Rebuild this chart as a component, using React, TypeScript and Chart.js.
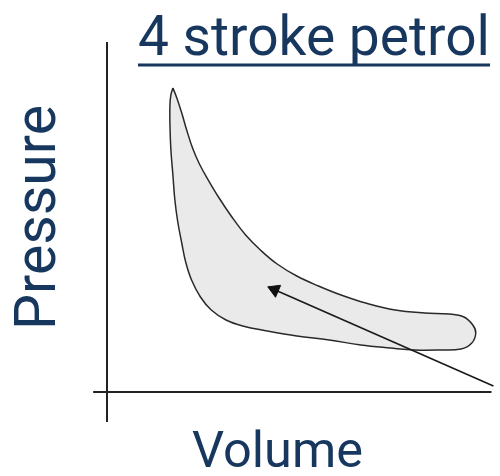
import { useEffect, useRef } from "react";
import { Chart, registerables } from "chart.js";

Chart.register(...registerables);

// ---- text ----
const titleText = "4 stroke petrol";
const xAxisTitle = "Volume";
const yAxisTitle = "Pressure";

// ---- P-V loop (volume, pressure), traced clockwise from the peak ----
const loopVolume = [
  1.714, 1.816, 1.944, 2.072, 2.225, 2.404, 2.634, 2.916, 3.248, 3.606, 3.99, 4.425,
  4.936, 5.499, 6.087, 6.726, 7.494, 8.261, 8.9, 9.284, 9.514, 9.591, 9.488, 9.207,
  8.645, 8.005, 7.366, 6.598, 5.78, 4.936, 4.169, 3.529, 3.095, 2.711, 2.43, 2.199,
  2.046, 1.944, 1.841, 1.765, 1.714, 1.662, 1.637, 1.637, 1.662, 1.714,
];
const loopPressure = [
  8.686, 8.4, 7.971, 7.486, 6.971, 6.514, 6.057, 5.543, 5.0, 4.486, 4.057, 3.657,
  3.314, 3.029, 2.771, 2.543, 2.343, 2.257, 2.229, 2.143, 1.914, 1.686, 1.4, 1.229,
  1.2, 1.2, 1.257, 1.343, 1.486, 1.6, 1.743, 1.886, 2.057, 2.343, 2.714, 3.2,
  3.714, 4.257, 4.857, 5.486, 6.2, 6.914, 7.629, 8.2, 8.486, 8.686,
];

// ---- arrow (tail -> head) ----
const arrowVolume = [10.05, 4.36];
const arrowPressure = [0.17, 2.92];

// ---- axis line extents ----
const volumeAxisVolume = [-0.36, 10];
const volumeAxisPressure = [0, 0];
const pressureAxisVolume = [0, 0];
const pressureAxisPressure = [10, -0.86];

const FONT = "Roboto, 'Open Sans', sans-serif";
const TEXT_COLOR = "#17375E";

const toPoints = (xs: number[], ys: number[]) => xs.map((x, i) => ({ x, y: ys[i] }));

const textPlugin = {
  id: "pvText",
  afterDraw(chart: any) {
    const ctx: CanvasRenderingContext2D = chart.ctx;
    const fit = (text: string, width: number) => {
      ctx.font = `100px ${FONT}`;
      return (100 * width) / ctx.measureText(text).width;
    };
    ctx.save();
    ctx.fillStyle = TEXT_COLOR;
    ctx.textBaseline = "alphabetic";
    ctx.textAlign = "left";

    // title + underline
    const ts = fit(titleText, 352);
    ctx.font = `${ts}px ${FONT}`;
    ctx.fillText(titleText, 138, 55);
    ctx.fillRect(138, 63.5, 352, 3);

    // x axis title
    const xs = fit(xAxisTitle, 171);
    ctx.font = `${xs}px ${FONT}`;
    ctx.fillText(xAxisTitle, 192, 467);

    // y axis title (rotated)
    const ys = fit(yAxisTitle, 225);
    ctx.font = `${ys}px ${FONT}`;
    ctx.translate(55, 330);
    ctx.rotate(-Math.PI / 2);
    ctx.fillText(yAxisTitle, 0, 0);
    ctx.restore();
  },
};

export default function App() {
  const canvasRef = useRef<HTMLCanvasElement | null>(null);

  useEffect(() => {
    if (!canvasRef.current) return;
    const chart = new Chart(canvasRef.current, {
      type: "scatter",
      data: {
        datasets: [
          {
            label: "arrow",
            data: toPoints(arrowVolume, arrowPressure),
            showLine: true,
            borderColor: "#1a1a1a",
            borderWidth: 1.6,
            pointRadius: [0, 7.5],
            pointStyle: "triangle",
            rotation: [0, -66.7],
            pointBackgroundColor: "#111111",
            pointBorderColor: "#111111",
            pointBorderWidth: 1,
            clip: false,
          } as any,
          {
            label: "volume axis",
            data: toPoints(volumeAxisVolume, volumeAxisPressure),
            showLine: true,
            borderColor: "#222222",
            borderWidth: 2,
            pointRadius: 0,
            clip: false,
          } as any,
          {
            label: "pressure axis",
            data: toPoints(pressureAxisVolume, pressureAxisPressure),
            showLine: true,
            borderColor: "#222222",
            borderWidth: 2,
            pointRadius: 0,
            clip: false,
          } as any,
          {
            label: "cycle",
            data: toPoints(loopVolume, loopPressure),
            showLine: true,
            borderColor: "#2a2a2a",
            borderWidth: 1.5,
            backgroundColor: "#eaeaea",
            fill: "shape",
            tension: 0.4,
            pointRadius: 0,
            clip: false,
          } as any,
        ],
      },
      options: {
        animation: false,
        responsive: false,
        devicePixelRatio: 1,
        layout: { padding: { left: 107, top: 42, right: 2, bottom: 84 } },
        scales: {
          x: { type: "linear", min: 0, max: 10, display: false },
          y: { type: "linear", min: 0, max: 10, display: false },
        },
        plugins: {
          legend: { display: false },
          tooltip: { enabled: false },
        },
      },
      plugins: [textPlugin],
    });
    return () => chart.destroy();
  }, []);

  return (
    <div style={{ position: "absolute", left: 0, top: 0, width: 500, height: 476, background: "#ffffff" }}>
      <canvas ref={canvasRef} width={500} height={476} style={{ display: "block" }} />
    </div>
  );
}
